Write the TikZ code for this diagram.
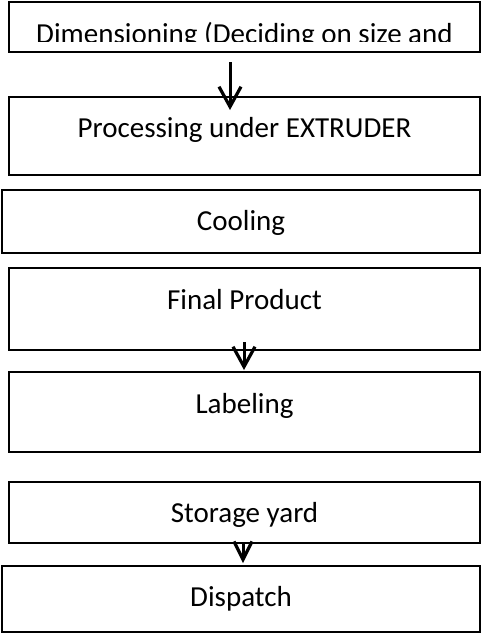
\documentclass[tikz,border=0pt]{standalone}
\usepackage{fontspec}
\setmainfont{Carlito}
\usetikzlibrary{arrows.meta}

\tikzset{
  stage/.style={draw=black, line width=2.8pt, fill=white, inner sep=0pt, outer sep=0pt,
                minimum width=471pt},
  widestage/.style={stage, minimum width=478pt},
  caption/.style={anchor=base, inner sep=0pt, font=\fontsize{29}{34}\selectfont},
  flow/.style={line width=3pt, -{Straight Barb[length=20pt, width=22pt, line width=3.2pt]}}
}

\begin{document}
\begin{tikzpicture}[x=1pt, y=-1pt]
  \useasboundingbox (0,0) rectangle (483,635);

  % process stages
  \node[stage, minimum height=50pt] (dim)     at (244.5, 27)   {};
  \node[stage, minimum height=78pt] (extr)    at (244.5, 136)  {};
  \node[widestage, minimum height=63pt] (cool)  at (241, 221.5) {};
  \node[stage, minimum height=82pt] (final)   at (244.5, 309)  {};
  \node[stage, minimum height=80pt] (label)   at (244.5, 412)  {};
  \node[stage, minimum height=61pt] (store)   at (244.5, 512.5) {};
  \node[widestage, minimum height=66pt] (disp)  at (241, 599)   {};

  % captions, set near the top of each stage
  \begin{scope}
    \clip (0,0) rectangle (483,41);
    \node[caption] (tdim) at ([yshift=-41.5pt]dim.north) {Dimensioning (Deciding on size and};
  \end{scope}
  \node[caption] (textr)  at ([yshift=-40.5pt]extr.north)  {Processing under EXTRUDER};
  \node[caption] (tcool)  at ([yshift=-40.5pt]cool.north)  {Cooling};
  \node[caption] (tfinal) at ([yshift=-41.5pt]final.north) {Final Product};
  \node[caption] (tlabel) at ([yshift=-41.5pt]label.north) {Labeling};
  \node[caption] (tstore) at ([yshift=-40.5pt]store.north) {Storage yard};
  \node[caption] (tdisp)  at ([yshift=-40.5pt]disp.north)  {Dispatch};

  % connector end points
  \coordinate (a1s) at (230, 62);
  \coordinate (a1e) at (230, 110);
  \coordinate (a2s) at (244, 342);
  \coordinate (a2e) at (244, 370);
  \coordinate (a3s) at (243, 542);
  \coordinate (a3e) at (243, 563);

  \draw[flow] (a1s) -- (a1e);
  \draw[flow] (a2s) -- (a2e);
  \draw[flow, -{Straight Barb[length=18pt, width=18pt, line width=3.2pt]}] (a3s) -- (a3e);
\end{tikzpicture}
\end{document}
